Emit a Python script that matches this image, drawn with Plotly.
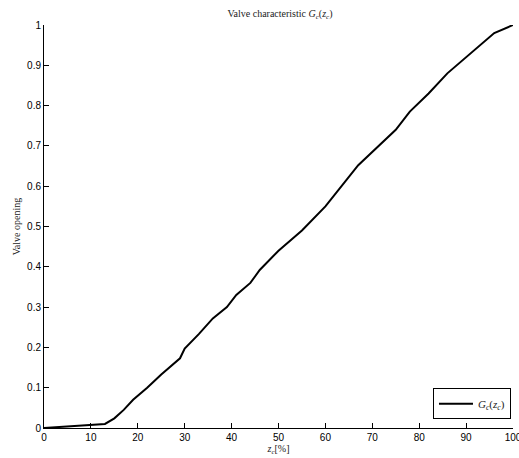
import plotly.graph_objects as go

# Valve stroke z_c [%] and resulting valve opening
stroke_pct = [0, 10, 13, 15, 17, 19, 22, 25, 29, 30, 33, 36, 39, 41, 44, 46,
              50, 55, 60, 67, 71, 75, 78, 82, 86, 91, 96, 100]
opening = [0, 0.007, 0.01, 0.024, 0.045, 0.07, 0.1, 0.133, 0.173, 0.197, 0.233,
           0.272, 0.30, 0.33, 0.36, 0.392, 0.44, 0.49, 0.55, 0.652, 0.695, 0.74,
           0.785, 0.83, 0.88, 0.93, 0.98, 1.0]

x_ticks = list(range(0, 101, 10))
y_ticks = [round(0.1 * i, 1) for i in range(11)]
y_tick_text = ["0"] + [f"{v:g}" for v in y_ticks[1:]]

serif = "Liberation Serif"
sans = "Liberation Sans, Arial, sans-serif"
tick_font = dict(family=sans, size=10, color="black")

fig = go.Figure()
fig.add_trace(go.Scatter(
    x=stroke_pct, y=opening, mode="lines",
    line=dict(color="black", width=2),
    name="<i>G<sub>c</sub></i>(<i>z<sub>c</sub></i>)",
))

fig.update_layout(
    width=519, height=458,
    margin=dict(l=44, r=6, t=25, b=30, autoexpand=False),
    paper_bgcolor="white", plot_bgcolor="white",
    title=dict(
        text="Valve characteristic <i>G<sub>c</sub></i>(<i>z<sub>c</sub></i>)",
        x=(280 / 519), xanchor="center", y=1 - 13 / 458, yanchor="middle",
        font=dict(family=serif, size=10, color="#222"),
    ),
    showlegend=True,
    legend=dict(
        x=0.9957, xanchor="right", y=0.022, yanchor="bottom",
        bordercolor="black", borderwidth=1, bgcolor="white",
        font=dict(family=serif, size=11, color="#222"),
        itemwidth=34,
    ),
    font=dict(family=sans, size=10, color="black"),
)

fig.update_xaxes(
    range=[0, 100], tickvals=x_ticks, ticktext=[str(v) for v in x_ticks],
    tickfont=tick_font, ticklabeloverflow="allow", automargin=False,
    showline=True, linecolor="black", linewidth=1,
    ticks="inside", ticklen=5, tickcolor="black",
    showgrid=False, zeroline=False,
    title=dict(text="<i>z<sub>c</sub></i>[%]", standoff=2,
               font=dict(family=serif, size=10, color="#222")),
)
fig.update_yaxes(
    range=[0, 1], tickvals=y_ticks, ticktext=y_tick_text,
    tickfont=tick_font, automargin=False,
    showline=True, linecolor="black", linewidth=1,
    ticks="inside", ticklen=5, tickcolor="black",
    showgrid=False, zeroline=False,
    title=dict(text="Valve opening", standoff=4,
               font=dict(family=serif, size=10, color="#222")),
)

fig.write_html("out.html")
